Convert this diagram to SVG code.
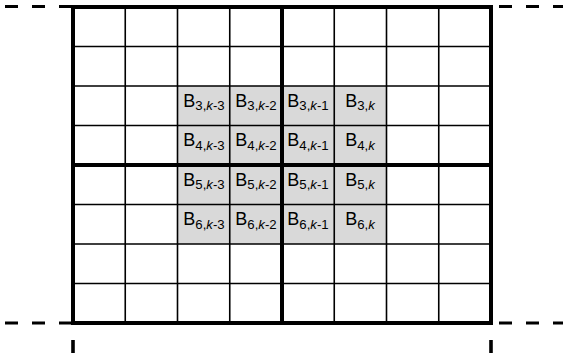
<svg xmlns="http://www.w3.org/2000/svg" width="563" height="360" viewBox="0 0 563 360">
<style>
.thin{stroke:#000;stroke-width:1.6;fill:none}
.thick{stroke:#000;stroke-width:4;fill:none}
.dash{stroke:#000;stroke-width:3.2;stroke-dasharray:13 14;fill:none}
.tick{stroke:#000;stroke-width:3.6}
.cell{fill:#d9d9d9}
text{font-family:"Liberation Sans",Arial,sans-serif;font-size:18px;fill:#000;text-anchor:middle}
.s{font-size:13.2px}
.i{font-style:italic}
</style>
<rect width="563" height="360" fill="#fff"/>
<g id="shaded">
<rect class="cell" x="177.5" y="86" width="209" height="158"/>
</g>
<g id="grid">
<path class="thin" d="M125.25 7V323M177.5 7V323M229.75 7V323M334.25 7V323M386.5 7V323M438.75 7V323M73 46.5H491M73 86H491M73 125.5H491M73 204.5H491M73 244H491M73 283.5H491"/>
<path class="thick" d="M282 7V323M73 165H491"/>
<rect class="thick" x="73" y="7" width="418" height="316"/>
</g>
<g id="extensions">
<path class="dash" d="M5 6.5H71M5 323H71"/>
<path class="dash" d="M499 6.5H563M499 323H563"/>
<path class="tick" d="M73 340V353M491 340V353"/>
</g>
<g id="labels">
<text x="204" y="106.5">B<tspan class="s" dy="3.5">3,<tspan class="i">k</tspan>-3</tspan></text>
<text x="256" y="106.5">B<tspan class="s" dy="3.5">3,<tspan class="i">k</tspan>-2</tspan></text>
<text x="308" y="106.5">B<tspan class="s" dy="3.5">3,<tspan class="i">k</tspan>-1</tspan></text>
<text x="360" y="106.5">B<tspan class="s" dy="3.5">3,<tspan class="i">k</tspan></tspan></text>
<text x="204" y="146">B<tspan class="s" dy="3.5">4,<tspan class="i">k</tspan>-3</tspan></text>
<text x="256" y="146">B<tspan class="s" dy="3.5">4,<tspan class="i">k</tspan>-2</tspan></text>
<text x="308" y="146">B<tspan class="s" dy="3.5">4,<tspan class="i">k</tspan>-1</tspan></text>
<text x="360" y="146">B<tspan class="s" dy="3.5">4,<tspan class="i">k</tspan></tspan></text>
<text x="204" y="185.5">B<tspan class="s" dy="3.5">5,<tspan class="i">k</tspan>-3</tspan></text>
<text x="256" y="185.5">B<tspan class="s" dy="3.5">5,<tspan class="i">k</tspan>-2</tspan></text>
<text x="308" y="185.5">B<tspan class="s" dy="3.5">5,<tspan class="i">k</tspan>-1</tspan></text>
<text x="360" y="185.5">B<tspan class="s" dy="3.5">5,<tspan class="i">k</tspan></tspan></text>
<text x="204" y="225">B<tspan class="s" dy="3.5">6,<tspan class="i">k</tspan>-3</tspan></text>
<text x="256" y="225">B<tspan class="s" dy="3.5">6,<tspan class="i">k</tspan>-2</tspan></text>
<text x="308" y="225">B<tspan class="s" dy="3.5">6,<tspan class="i">k</tspan>-1</tspan></text>
<text x="360" y="225">B<tspan class="s" dy="3.5">6,<tspan class="i">k</tspan></tspan></text>
</g>
</svg>
